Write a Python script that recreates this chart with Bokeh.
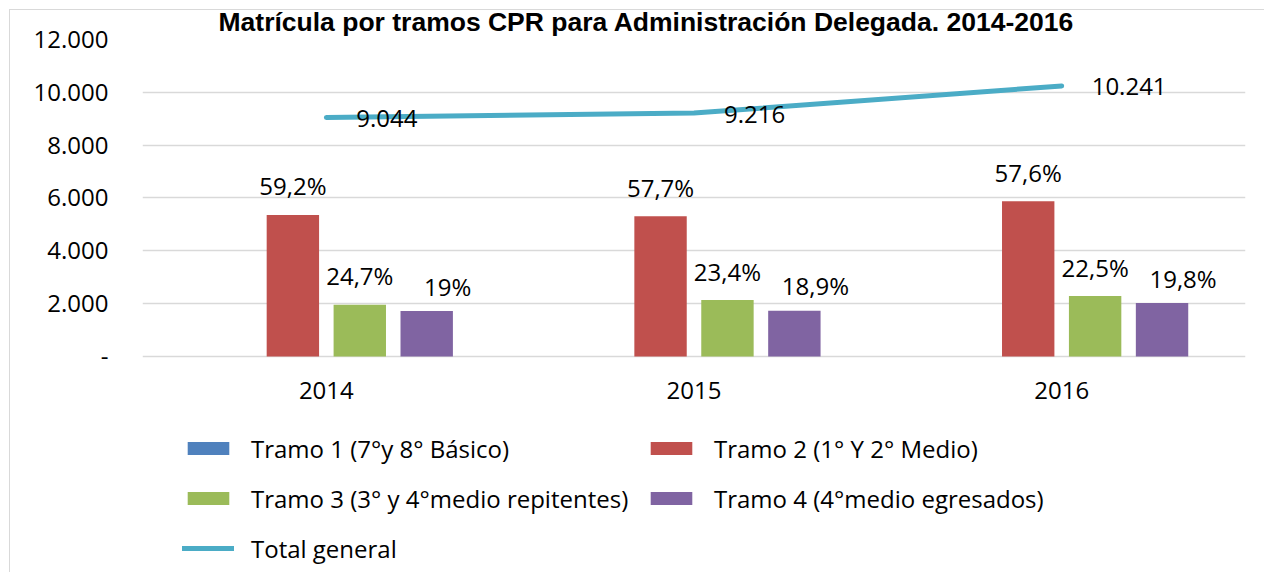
from bokeh.plotting import figure
from bokeh.models import (ColumnDataSource, Legend, LegendItem, CustomJSTickFormatter,
                          Range1d, FixedTicker)
from bokeh.transform import dodge
from bokeh.embed import file_html
from bokeh.resources import INLINE
from bokeh.core.properties import value

# ---------------- data ----------------
years = ["2014", "2015", "2016"]
tramo1 = [0, 0, 0]
tramo2 = [5358, 5305, 5874]
tramo3 = [1959, 2137, 2289]
tramo4 = [1720, 1732, 2023]
total = [9044, 9216, 10241]
total_labels = ["9.044", "9.216", "10.241"]
pct2 = ["59,2%", "57,7%", "57,6%"]
pct3 = ["24,7%", "23,4%", "22,5%"]
pct4 = ["19%", "18,9%", "19,8%"]
y_ticks = [0, 2000, 4000, 6000, 8000, 10000, 12000]

series_names = ["Tramo 1 (7°y 8° Básico)", "Tramo 2 (1° Y 2° Medio)",
                "Tramo 3 (3° y 4°medio repitentes)", "Tramo 4 (4°medio egresados)"]
line_name = "Total general"
title_text = "Matrícula por tramos CPR para Administración Delegada. 2014-2016"

# ---------------- styles / layout ----------------
FONT = "Open Sans"
colors = ["#4F81BD", "#C0504D", "#9BBB59", "#8064A2"]
line_color = "#4BACC6"
offsets = [-0.273, -0.091, 0.091, 0.273]
bar_w = 0.1425
W, H = 1264, 572
Y_MIN = -8177   # frame extends below zero to hold the legend area

src = ColumnDataSource(dict(year=years, t1=tramo1, t2=tramo2, t3=tramo3, t4=tramo4,
                            total=total, tl=total_labels, p2=pct2, p3=pct3, p4=pct4))

p = figure(width=W, height=H, x_range=years, y_range=Range1d(Y_MIN, 12000),
           output_backend="svg", toolbar_location=None,
           min_border_left=142, min_border_right=19, min_border_top=39,
           min_border_bottom=0)
p.border_fill_color = None
p.background_fill_color = "white"
p.outline_line_color = None
p.styles = {"background": "linear-gradient(#d9d9d9,#d9d9d9) 9px 9px / 1px 100% no-repeat, "
                          "linear-gradient(#d9d9d9,#d9d9d9) 9px 9px / 100% 1px no-repeat"}

p.title.text = title_text
p.title.text_font = "Liberation Sans"
p.title.text_font_style = "bold"
p.title.text_font_size = "26.5px"
p.title.text_color = "black"
p.title.align = "left"
p.title.offset = 76
p.title.standoff = 6

# grid & axes
ticker = FixedTicker(ticks=y_ticks)
p.xgrid.grid_line_color = None
p.ygrid.ticker = ticker
p.ygrid.grid_line_color = "#d9d9d9"
p.ygrid.grid_line_width = 1.5
p.yaxis.ticker = ticker
p.yaxis.formatter = CustomJSTickFormatter(code="""
if (tick == 0) { return '-'; }
return Math.round(tick).toString().replace(/\\B(?=(\\d{3})+(?!\\d))/g, '.');
""")
for ax in (p.xaxis, p.yaxis):
    ax.axis_line_color = None
    ax.major_tick_line_color = None
    ax.minor_tick_line_color = None
    ax.major_tick_out = 0
    ax.major_tick_in = 0
    ax.major_label_text_font = FONT
    ax.major_label_text_font_size = "24px"
    ax.major_label_text_color = "black"
p.yaxis.major_label_standoff = 34
p.xaxis.fixed_location = 0
p.xaxis.major_label_standoff = 26

# bars
cols = ["t1", "t2", "t3", "t4"]
bar_renderers = []
for c, off, col in zip(cols, offsets, colors):
    r = p.vbar(x=dodge("year", off, range=p.x_range), top=c, width=bar_w, source=src,
               fill_color=col, line_color=None)
    bar_renderers.append(r)

# bar labels
label_specs = [("t2", "p2", offsets[1], 0, -29),
               ("t3", "p3", offsets[2], 0, -29),
               ("t4", "p4", offsets[3], 21, -25)]
for c, lab, off, xo, yo in label_specs:
    p.text(x=dodge("year", off, range=p.x_range), y=c, text=lab, source=src,
           text_align="center", text_baseline="middle", x_offset=xo, y_offset=yo,
           text_font=value(FONT), text_font_size="24px", text_color="black")

# total line
lr = p.line(x="year", y="total", source=src, line_color=line_color, line_width=5,
            line_cap="round", line_join="round")
p.text(x="year", y="total", text="tl", source=src, text_align="left",
       text_baseline="middle", x_offset=30, y_offset=1,
       text_font=value(FONT), text_font_size="24px", text_color="black")

# legends
def make_legend(items, loc):
    lg = Legend(items=items, location=loc, orientation="vertical")
    lg.label_text_font = FONT
    lg.label_text_font_size = "24px"
    lg.label_text_color = "black"
    lg.glyph_width = 52
    lg.glyph_height = 16
    lg.label_height = 34
    lg.label_standoff = 17
    lg.spacing = 16
    lg.padding = 0
    lg.margin = 0
    lg.border_line_color = None
    lg.background_fill_alpha = 0
    return lg

legA = make_legend([LegendItem(label=series_names[0], renderers=[bar_renderers[0]]),
                    LegendItem(label=series_names[2], renderers=[bar_renderers[2]]),
                    LegendItem(label=line_name, renderers=[lr])], (40, 7))
legB = make_legend([LegendItem(label=series_names[1], renderers=[bar_renderers[1]]),
                    LegendItem(label=series_names[3], renderers=[bar_renderers[3]])], (503, 57))
p.add_layout(legA)
p.add_layout(legB)

open("out.html", "w").write(file_html(p, INLINE))
